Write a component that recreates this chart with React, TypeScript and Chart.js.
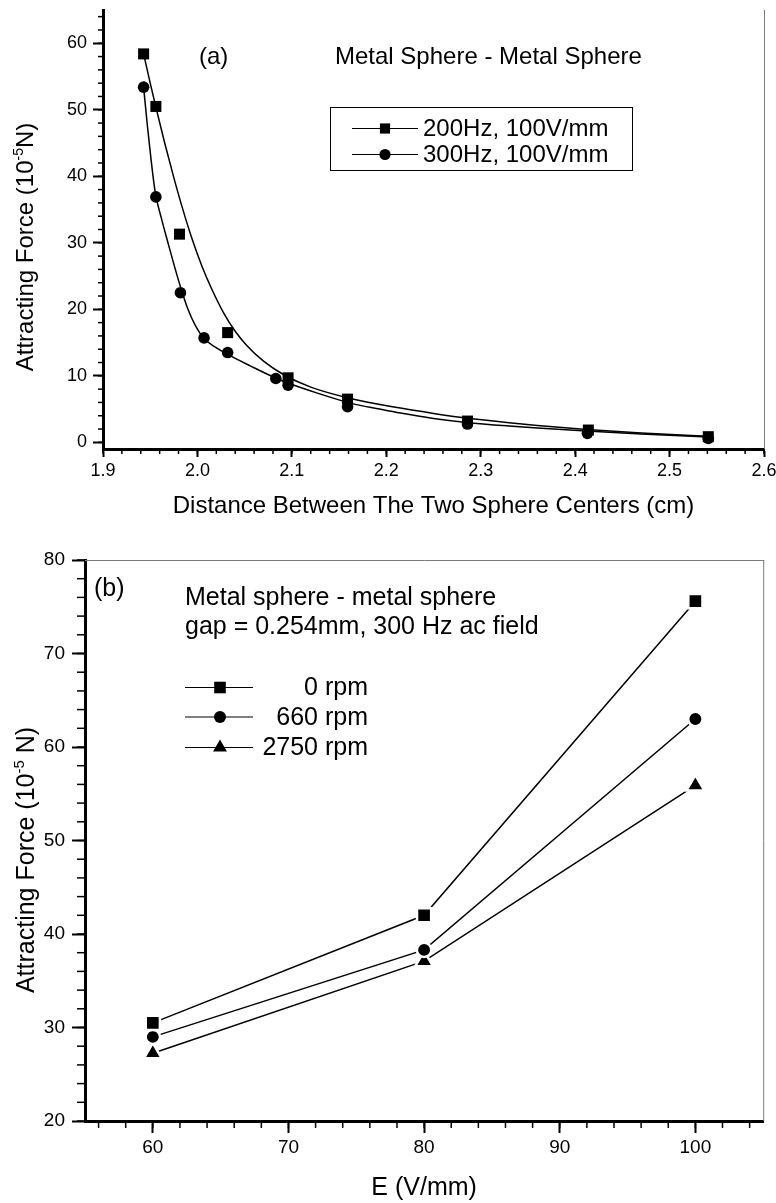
import React, { useEffect, useRef } from 'react';
import { Chart, registerables } from 'chart.js';

Chart.register(...registerables);

const FONT = '"Liberation Sans", Arial, Helvetica, sans-serif';
const BLACK = '#000000';
const FRAME = '#7a7a7a';

// ---------------- Panel (a) ----------------
const distTickValues = [1.9, 2.0, 2.1, 2.2, 2.3, 2.4, 2.5, 2.6];
const forceTickValuesA = [0, 10, 20, 30, 40, 50, 60];
const series200Label = '200Hz, 100V/mm';
const series300Label = '300Hz, 100V/mm';
const dist200 = [1.943, 1.956, 1.981, 2.032, 2.096, 2.159, 2.286, 2.414, 2.541];
const force200 = [58.4, 50.5, 31.3, 16.5, 9.7, 6.5, 3.2, 1.85, 0.85];
const dist300 = [1.943, 1.956, 1.982, 2.007, 2.032, 2.083, 2.096, 2.159, 2.286, 2.413, 2.541];
const force300 = [53.4, 36.9, 22.5, 15.7, 13.5, 9.6, 8.6, 5.35, 2.75, 1.35, 0.6];
// fitted curves
const fitDist200 = [1.943, 1.95, 1.956, 1.965, 1.975, 1.985, 1.995, 2.005, 2.015, 2.028, 2.04, 2.052, 2.07, 2.091, 2.12, 2.162, 2.215, 2.25, 2.285, 2.33, 2.36, 2.412, 2.47, 2.541];
const fitForce200 = [58.4, 54.0, 50.4, 45.2, 39.8, 34.8, 30.3, 26.4, 23.1, 19.4, 16.7, 14.6, 12.2, 10.2, 8.3, 6.6, 5.15, 4.35, 3.65, 2.95, 2.55, 1.95, 1.4, 0.9];
const fitDist300 = [1.943, 1.947, 1.951, 1.9553, 1.962, 1.969, 1.976, 1.982, 1.99, 1.998, 2.007, 2.019, 2.031, 2.056, 2.084, 2.098, 2.127, 2.162, 2.193, 2.215, 2.25, 2.285, 2.33, 2.36, 2.412, 2.47, 2.541];
const fitForce300 = [53.4, 47.6, 42.4, 37.6, 33.6, 29.9, 26.3, 23.4, 20.0, 17.5, 15.6, 14.3, 13.3, 11.5, 9.6, 8.8, 7.4, 5.9, 5.0, 4.4, 3.6, 3.0, 2.45, 2.15, 1.7, 1.25, 0.8];

// ---------------- Panel (b) ----------------
const eTickValues = [60, 70, 80, 90, 100];
const forceTickValuesB = [20, 30, 40, 50, 60, 70, 80];
const eField = [60, 80, 100];
const rpmLabels = ['0 rpm', '660 rpm', '2750 rpm'];
const force0rpm = [30.5, 42.0, 75.6];
const force660rpm = [29.0, 38.3, 63.0];
const force2750rpm = [27.25, 37.1, 55.9];

const pts = (xs: number[], ys: number[]) => xs.map((x, i) => ({ x, y: ys[i] }));

function drawMarker(ctx: CanvasRenderingContext2D, style: string, x: number, y: number, r: number) {
  ctx.beginPath();
  if (style === 'rect') {
    const h = Math.SQRT1_2 * r;
    ctx.rect(x - h, y - h, 2 * h, 2 * h);
  } else if (style === 'circle') {
    ctx.arc(x, y, r, 0, Math.PI * 2);
  } else {
    for (let k = 0; k < 3; k++) {
      const a = (k * 2 * Math.PI) / 3;
      const px = x + Math.sin(a) * r;
      const py = y - Math.cos(a) * r;
      if (k === 0) ctx.moveTo(px, py); else ctx.lineTo(px, py);
    }
    ctx.closePath();
  }
  ctx.fillStyle = BLACK;
  ctx.fill();
}

function hline(ctx: CanvasRenderingContext2D, x1: number, x2: number, y: number) {
  ctx.beginPath();
  ctx.moveTo(x1, y);
  ctx.lineTo(x2, y);
  ctx.stroke();
}
function vline(ctx: CanvasRenderingContext2D, x: number, y1: number, y2: number) {
  ctx.beginPath();
  ctx.moveTo(x, y1);
  ctx.lineTo(x, y2);
  ctx.stroke();
}

function drawYTitle(ctx: CanvasRenderingContext2D, cx: number, cy: number, size: number, pre: string, sup: string, post: string) {
  ctx.save();
  ctx.translate(cx, cy);
  ctx.rotate(-Math.PI / 2);
  const f = `${size}px ${FONT}`;
  const fs = `${Math.round(size * 0.6)}px ${FONT}`;
  ctx.font = f;
  const w1 = ctx.measureText(pre).width;
  const w3 = ctx.measureText(post).width;
  ctx.font = fs;
  const w2 = ctx.measureText(sup).width;
  let x = -(w1 + w2 + w3) / 2;
  const base = size * 0.36;
  ctx.fillStyle = BLACK;
  ctx.textAlign = 'left';
  ctx.textBaseline = 'alphabetic';
  ctx.font = f;
  ctx.fillText(pre, x, base);
  x += w1;
  ctx.font = fs;
  ctx.fillText(sup, x, base - size * 0.4);
  x += w2;
  ctx.font = f;
  ctx.fillText(post, x, base);
  ctx.restore();
}

function minorTicks(ctx: CanvasRenderingContext2D, scale: any, from: number, step: number, count: number, horizontal: boolean, edge: number, len: number) {
  for (let i = 0; i <= count; i++) {
    const p = scale.getPixelForValue(from + i * step);
    if (horizontal) vline(ctx, p, edge, edge + len);
    else hline(ctx, edge - len, edge, p);
  }
}

const panelAPlugin = {
  id: 'panelA',
  afterDraw(chart: any) {
    const { ctx, chartArea: ca, scales } = chart;
    ctx.save();
    ctx.strokeStyle = FRAME;
    ctx.lineWidth = 1;
    vline(ctx, ca.right + 0.5, ca.top, ca.bottom);
    ctx.strokeStyle = BLACK;
    ctx.lineWidth = 1.5;
    minorTicks(ctx, scales.x, 1.9, 0.02, 35, true, ca.bottom, 5);
    minorTicks(ctx, scales.y, 0, 2, 32, false, ca.left, 5);

    drawYTitle(ctx, 24, 247, 24, 'Attracting Force (10', '-5', 'N)');

    ctx.fillStyle = BLACK;
    ctx.font = `24px ${FONT}`;
    ctx.textAlign = 'left';
    ctx.textBaseline = 'middle';
    ctx.fillText('(a)', 199, 57);
    ctx.fillText('Metal Sphere - Metal Sphere', 335, 57);

    // legend box
    ctx.strokeStyle = BLACK;
    ctx.lineWidth = 1;
    ctx.strokeRect(330.5, 107.5, 302, 63);
    const rows = [
      { y: 128.5, style: 'rect', r: 7.2, label: series200Label },
      { y: 154.5, style: 'circle', r: 5.6, label: series300Label },
    ];
    rows.forEach((row) => {
      ctx.strokeStyle = BLACK;
      ctx.lineWidth = 1.2;
      hline(ctx, 352, 418, row.y);
      drawMarker(ctx, row.style, 385, row.y, row.r);
      ctx.fillStyle = BLACK;
      ctx.font = `24px ${FONT}`;
      ctx.textAlign = 'left';
      ctx.textBaseline = 'middle';
      ctx.fillText(row.label, 423, row.y + 1);
    });
    ctx.restore();
  },
};

const panelBPlugin = {
  id: 'panelB',
  afterDraw(chart: any) {
    const { ctx, chartArea: ca, scales } = chart;
    ctx.save();
    ctx.strokeStyle = FRAME;
    ctx.lineWidth = 1;
    vline(ctx, ca.right + 0.5, ca.top, ca.bottom);
    hline(ctx, ca.left, ca.right + 1, ca.top + 0.5);
    ctx.strokeStyle = BLACK;
    ctx.lineWidth = 1.5;
    minorTicks(ctx, scales.x, 56, 2, 24, true, ca.bottom, 7);
    minorTicks(ctx, scales.y, 20, 2, 30, false, ca.left, 8);

    drawYTitle(ctx, 25, 330, 25, 'Attracting Force (10', '-5', ' N)');

    ctx.fillStyle = BLACK;
    ctx.font = `25px ${FONT}`;
    ctx.textAlign = 'left';
    ctx.textBaseline = 'middle';
    ctx.fillText('(b)', 94, 59);
    ctx.fillText('Metal sphere - metal sphere', 185, 68);
    ctx.fillText('gap = 0.254mm, 300 Hz ac field', 185, 97);

    const rows = [
      { y: 157.5, style: 'rect', r: 8.2, label: rpmLabels[0] },
      { y: 187, style: 'circle', r: 6, label: rpmLabels[1] },
      { y: 217.5, style: 'triangle', r: 8, label: rpmLabels[2] },
    ];
    rows.forEach((row) => {
      ctx.strokeStyle = BLACK;
      ctx.lineWidth = 1.2;
      hline(ctx, 185, 253, row.y);
      drawMarker(ctx, row.style, 220, row.y, row.r);
      ctx.fillStyle = BLACK;
      ctx.font = `25px ${FONT}`;
      ctx.textAlign = 'right';
      ctx.textBaseline = 'middle';
      ctx.fillText(row.label, 368, row.y + 1);
    });
    ctx.restore();
  },
};

function axisCommon(tickLen: number, fontSize: number, pad: number) {
  return {
    grid: { display: true, drawOnChartArea: false, drawTicks: true, tickLength: tickLen, tickWidth: 2, tickColor: BLACK },
    border: { display: true, color: BLACK, width: 3 },
    ticks: { color: BLACK, font: { family: FONT, size: fontSize }, padding: pad, maxRotation: 0, autoSkip: false },
  };
}

function buildA(canvas: HTMLCanvasElement) {
  const xc = axisCommon(8, 18, 3);
  const yc = axisCommon(10, 18, 6);
  return new Chart(canvas, {
    type: 'scatter',
    data: {
      datasets: [
        { label: 'fit 200Hz', data: pts(fitDist200, fitForce200), showLine: true, pointRadius: 0, borderColor: BLACK, borderWidth: 1.5, cubicInterpolationMode: 'monotone', fill: false },
        { label: 'fit 300Hz', data: pts(fitDist300, fitForce300), showLine: true, pointRadius: 0, borderColor: BLACK, borderWidth: 1.5, cubicInterpolationMode: 'monotone', fill: false },
        { label: series200Label, data: pts(dist200, force200), showLine: false, pointStyle: 'rect', pointRadius: 7.8, pointBackgroundColor: BLACK, pointBorderWidth: 0, pointBorderColor: BLACK },
        { label: series300Label, data: pts(dist300, force300), showLine: false, pointStyle: 'circle', pointRadius: 5.8, pointBackgroundColor: BLACK, pointBorderWidth: 0, pointBorderColor: BLACK },
      ],
    } as any,
    options: {
      responsive: false,
      animation: false,
      devicePixelRatio: 1,
      events: [],
      layout: { padding: { left: 0, right: 12, top: 10, bottom: 0 } },
      plugins: { legend: { display: false }, tooltip: { enabled: false } },
      scales: {
        x: {
          type: 'linear', position: 'bottom', min: 1.9, max: 2.6,
          afterBuildTicks: (s: any) => { s.ticks = distTickValues.map((v) => ({ value: v })); },
          afterFit: (s: any) => { s.height = 81; s.paddingLeft = 0; s.paddingRight = 0; },
          ...xc,
          ticks: { ...xc.ticks, callback: (v: any) => Number(v).toFixed(1) },
          title: { display: true, text: 'Distance Between The Two Sphere Centers (cm)', color: BLACK, font: { family: FONT, size: 24 }, padding: { top: 0, bottom: 9 } },
        },
        y: {
          type: 'linear', position: 'left', min: -1, max: 65,
          afterBuildTicks: (s: any) => { s.ticks = forceTickValuesA.map((v) => ({ value: v })); },
          afterFit: (s: any) => { s.width = 103; s.paddingTop = 0; s.paddingBottom = 0; },
          ...yc,
          ticks: { ...yc.ticks, callback: (v: any) => String(v) },
        },
      },
    } as any,
    plugins: [panelAPlugin],
  });
}

function buildB(canvas: HTMLCanvasElement) {
  const xc = axisCommon(12, 19, 3);
  const yc = axisCommon(13, 19, 7);
  const ds = (label: string, ys: number[], style: string, r: number) => ({
    label, data: pts(eField, ys), showLine: true, borderColor: BLACK, borderWidth: 1.5,
    pointStyle: style, pointRadius: r, pointBackgroundColor: BLACK, pointBorderColor: '#ffffff', pointBorderWidth: 2.5, fill: false,
  });
  return new Chart(canvas, {
    type: 'scatter',
    data: {
      datasets: [
        ds(rpmLabels[0], force0rpm, 'rect', 10),
        ds(rpmLabels[1], force660rpm, 'circle', 7.2),
        ds(rpmLabels[2], force2750rpm, 'triangle', 10.3),
      ],
    } as any,
    options: {
      responsive: false,
      animation: false,
      devicePixelRatio: 1,
      events: [],
      layout: { padding: { left: 0, right: 1, top: 30, bottom: 0 } },
      plugins: { legend: { display: false }, tooltip: { enabled: false } },
      scales: {
        x: {
          type: 'linear', position: 'bottom', min: 55, max: 105,
          afterBuildTicks: (s: any) => { s.ticks = eTickValues.map((v) => ({ value: v })); },
          afterFit: (s: any) => { s.height = 82; s.paddingLeft = 0; s.paddingRight = 0; },
          ...xc,
          ticks: { ...xc.ticks, callback: (v: any) => String(v) },
          title: { display: true, text: 'E (V/mm)', color: BLACK, font: { family: FONT, size: 25 }, padding: { top: 0, bottom: 0 } },
        },
        y: {
          type: 'linear', position: 'left', min: 20, max: 80,
          afterBuildTicks: (s: any) => { s.ticks = forceTickValuesB.map((v) => ({ value: v })); },
          afterFit: (s: any) => { s.width = 85; s.paddingTop = 0; s.paddingBottom = 0; },
          ...yc,
          ticks: { ...yc.ticks, callback: (v: any) => String(v) },
        },
      },
    } as any,
    plugins: [panelBPlugin],
  });
}

export default function App() {
  const refA = useRef<HTMLCanvasElement | null>(null);
  const refB = useRef<HTMLCanvasElement | null>(null);
  useEffect(() => {
    const a = refA.current ? buildA(refA.current) : null;
    const b = refB.current ? buildB(refB.current) : null;
    return () => {
      if (a) a.destroy();
      if (b) b.destroy();
    };
  }, []);
  return (
    <div style={{ position: 'absolute', left: 0, top: 0, width: 776, height: 1203, background: '#ffffff' }}>
      <canvas ref={refA} width={776} height={530} style={{ position: 'absolute', left: 0, top: 0, width: 776, height: 530 }} />
      <canvas ref={refB} width={776} height={673} style={{ position: 'absolute', left: 0, top: 530, width: 776, height: 673 }} />
    </div>
  );
}
